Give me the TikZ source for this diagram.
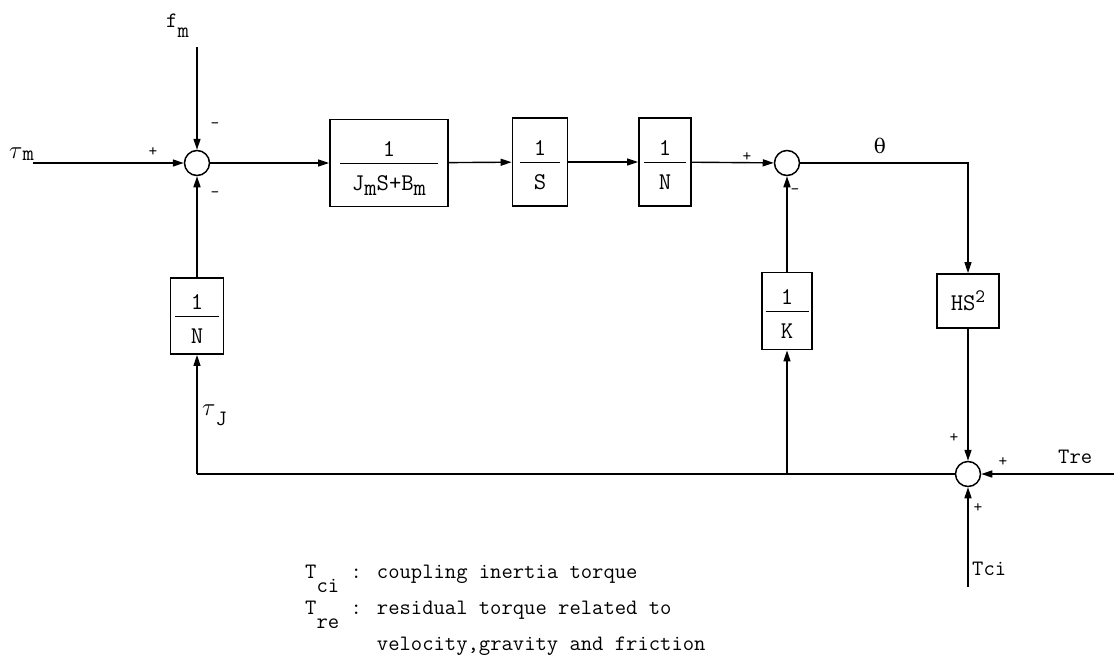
\documentclass[tikz,border=0pt]{standalone}
\usepackage{fontspec}
\renewcommand{\familydefault}{\ttdefault}
\newfontfamily\grk{DejaVu Serif}
\usetikzlibrary{arrows.meta, positioning}
\setlength{\arrayrulewidth}{1.6pt}
\newcommand{\sub}[2][7pt]{\raisebox{-#1}{#2}}
\newcommand{\frc}[3][40pt]{\begin{tabular}{@{}c@{}}\rule{0pt}{29pt}\makebox[#1]{#2}\\[-2pt]\hline\rule{0pt}{26pt}#3\end{tabular}}
\newcommand{\bigtau}{{\fontsize{30}{30}\selectfont$\tau$}}

\begin{document}
\begin{tikzpicture}[x=1pt, y=-1pt,
  font=\fontsize{22}{26}\selectfont,
  block/.style 2 args={draw, line width=1.8pt, inner sep=0pt,
                       font=\fontsize{24}{26}\selectfont,
                       minimum width=#1, minimum height=#2},
  sumnode/.style={draw, circle, line width=1.5pt, minimum size=25pt, inner sep=0pt},
  arr/.style={-{Triangle[length=11pt, width=7pt]}, line width=1.4pt},
  wire/.style={line width=1.4pt},
  sgn/.style={font=\fontsize{17}{18}\selectfont, inner sep=0pt},
  lbl/.style={inner sep=0pt, anchor=base west},
]
\fill[white] (0,0) rectangle (1114,659);
\useasboundingbox (0,0) rectangle (1114,659);

% Summing points
\node[sumnode] (S1) at (197,163) {};
\node[sumnode] (S2) at (787,163) {};
\node[sumnode] (S3) at (968,474) {};

% Forward path
\node[block={118}{87}] (G1) at (389,163) {\frc[98pt]{1}{J\sub[5pt]{m}S+B\sub[5pt]{m}}};
\node[block={55}{88}] (G2) at (540,162) {\frc{1}{S}};
\node[block={52}{88}] (G3) at (665,162) {\frc[42pt]{1}{N}};

% Feedback blocks
\node[block={53}{76}] (GN) at (197,316) {\frc[44pt]{1}{N}};
\node[block={50}{77}] (GK) at (787,311) {\frc[43pt]{1}{K}};
\node[block={62}{54}] (GH) at (968,301)
  {HS\raisebox{8pt}{\fontsize{19}{19}\selectfont 2}};

% Inputs and branch points
\coordinate (tauIn) at (33,163);
\coordinate (fIn) at (197,47);
\coordinate (FB) at (197,474);
\coordinate (FBK) at (787,474);
\coordinate (TreIn) at (1114,474);
\coordinate (TciIn) at (968,587);

% Connectors
\draw[arr] (tauIn) -- (S1);
\draw[arr] (fIn) -- (S1);
\foreach \a/\b in {S1/G1, G1/G2, G2/G3, G3/S2, GN/S1, GK/S2, GH/S3, TreIn/S3, TciIn/S3} {
  \draw[arr] (\a) -- (\b);
}
\draw[arr] (S2) -| (GH);
\draw[wire] (S3) -- (FB);
\draw[arr] (FB) -- (GN);
\draw[arr] (FBK) -- (GK);

% Signal labels
\node[lbl] (tauM) at (9,158) {\bigtau\sub[2pt]{m}};
\node[lbl] (fM) at (166,27) {f\sub[10pt]{m}};
\node[lbl] (tauJ) at (202,415) {\bigtau\sub[10pt]{J}};
\node[font=\grk\fontsize{20}{22}\selectfont, inner sep=0pt] (theta) at (880,146) {θ};
\node[lbl] (Tre) at (1058,463) {Tre};
\node[lbl] (Tci) at (972,575) {Tci};

% Signs
\node[sgn] (s1p) at (153,152) {+};
\node[sgn] (s1a) at (215,126) {-};
\node[sgn] (s1b) at (215,195) {-};
\node[sgn] (s2p) at (747,157) {+};
\node[sgn] (s2m) at (795,192) {-};
\node[sgn] (s3a) at (954,438) {+};
\node[sgn] (s3b) at (1003,462) {+};
\node[sgn] (s3c) at (978,508) {+};

% Legend
\node[lbl] (legCi) at (305,578) {T\sub[14pt]{ci} : coupling inertia torque};
\node[lbl] (legRe) at (305,614) {T\sub[14pt]{re} : residual torque related to};
\node[lbl] (legRe2) at (305,650) {\phantom{Tre : }velocity,gravity and friction};

\end{tikzpicture}
\end{document}
